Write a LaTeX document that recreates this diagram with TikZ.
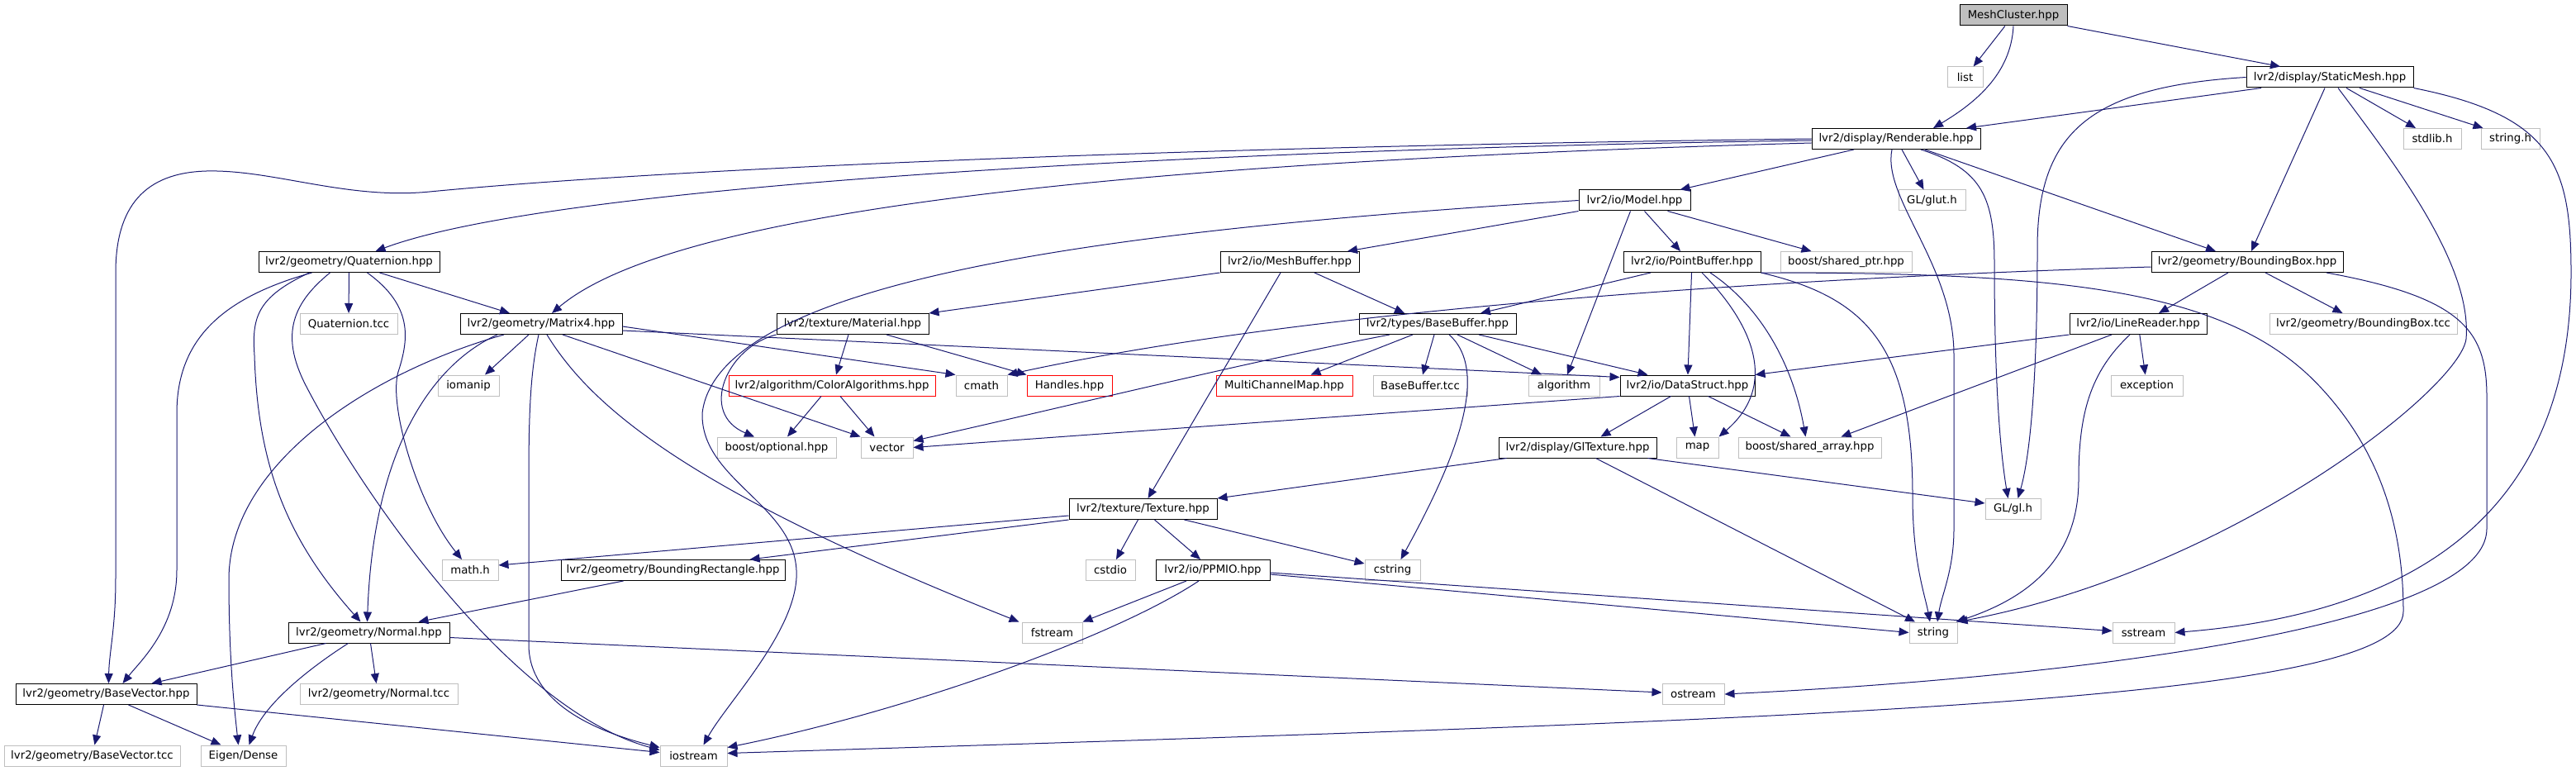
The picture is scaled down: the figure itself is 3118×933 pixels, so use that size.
\documentclass[tikz,border=0pt]{standalone}
\usepackage{fontspec}
\setmainfont{DejaVu Sans}
\usetikzlibrary{arrows.meta}
\definecolor{edgeblue}{HTML}{191970}
\definecolor{boxgray}{HTML}{BFBFBF}

\begin{document}
\begin{tikzpicture}[x=1pt,y=-1pt,
  box/.style={draw,line width=1pt,minimum height=25pt,inner sep=0pt,font=\fontsize{13.3}{15}\selectfont},
  hdr/.style={box,draw=black},
  sys/.style={box,draw=boxgray},
  miss/.style={box,draw=red},
  cur/.style={box,draw=black,fill=boxgray},
  edge/.style={draw=edgeblue,line width=1pt,-{Triangle[length=12pt,width=10pt]}}]
\useasboundingbox (0,0) rectangle (3118,933);

% Узлы по рядам
\node[cur,minimum width=130pt] (mc) at (2437,18.5) {MeshCluster.hpp};
\node[sys,minimum width=43pt] (lst) at (2378.5,93.5) {list};
\node[hdr,minimum width=202pt] (sm) at (2820,93.5) {lvr2/display/StaticMesh.hpp};
\node[hdr,minimum width=204pt] (rend) at (2295,168) {lvr2/display/Renderable.hpp};
\node[sys,minimum width=70pt] (stdl) at (2944,168) {stdlib.h};
\node[sys,minimum width=71pt] (strh) at (3038.5,168) {string.h};
\node[hdr,minimum width=135pt] (model) at (1978.5,242.5) {lvr2/io/Model.hpp};
\node[sys,minimum width=81pt] (glut) at (2338.5,242.5) {GL/glut.h};
\node[hdr,minimum width=219pt] (quat) at (422.5,317) {lvr2/geometry/Quaternion.hpp};
\node[hdr,minimum width=168pt] (mbuf) at (1561,317) {lvr2/io/MeshBuffer.hpp};
\node[hdr,minimum width=166pt] (pbuf) at (2048,317) {lvr2/io/PointBuffer.hpp};
\node[sys,minimum width=159pt] (sptr) at (2234.5,317) {boost/shared\_ptr.hpp};
\node[hdr,minimum width=232pt] (bbox) at (2720,317) {lvr2/geometry/BoundingBox.hpp};
\node[sys,minimum width=118pt] (qtcc) at (422,392) {Quaternion.tcc};
\node[hdr,minimum width=196pt] (mat4) at (655,392) {lvr2/geometry/Matrix4.hpp};
\node[hdr,minimum width=184pt] (mat) at (1032,392) {lvr2/texture/Material.hpp};
\node[hdr,minimum width=190pt] (bbuf) at (1740,392) {lvr2/types/BaseBuffer.hpp};
\node[hdr,minimum width=166pt] (lrd) at (2588,392) {lvr2/io/LineReader.hpp};
\node[sys,minimum width=227pt] (bbtcc) at (2860.5,392) {lvr2/geometry/BoundingBox.tcc};
\node[sys,minimum width=74pt] (iom) at (567,466.5) {iomanip};
\node[miss,minimum width=250pt] (calg) at (1007,466.5) {lvr2/algorithm/ColorAlgorithms.hpp};
\node[sys,minimum width=62pt] (cmath) at (1188,466.5) {cmath};
\node[miss,minimum width=103pt] (hnd) at (1294.5,466.5) {Handles.hpp};
\node[miss,minimum width=165pt] (mcm) at (1554.5,466.5) {MultiChannelMap.hpp};
\node[sys,minimum width=114pt] (bbtc) at (1719,466.5) {BaseBuffer.tcc};
\node[sys,minimum width=86pt] (algo) at (1893,466.5) {algorithm};
\node[hdr,minimum width=163pt] (ds) at (2042.5,466.5) {lvr2/io/DataStruct.hpp};
\node[sys,minimum width=87pt] (exc) at (2598.5,466.5) {exception};
\node[sys,minimum width=144pt] (bopt) at (940,541.5) {boost/optional.hpp};
\node[sys,minimum width=63pt] (vec) at (1073.5,541.5) {vector};
\node[hdr,minimum width=191pt] (gltex) at (1909.5,541.5) {lvr2/display/GlTexture.hpp};
\node[sys,minimum width=51pt] (map) at (2054.5,541.5) {map};
\node[sys,minimum width=173pt] (sarr) at (2190.5,541.5) {boost/shared\_array.hpp};
\node[hdr,minimum width=179pt] (tex) at (1383.5,616) {lvr2/texture/Texture.hpp};
\node[sys,minimum width=67pt] (gl) at (2436.5,616) {GL/gl.h};
\node[sys,minimum width=68pt] (math) at (569,690) {math.h};
\node[hdr,minimum width=271pt] (brect) at (814.5,690) {lvr2/geometry/BoundingRectangle.hpp};
\node[sys,minimum width=60pt] (cstdio) at (1344,690) {cstdio};
\node[hdr,minimum width=138pt] (ppm) at (1468,690) {lvr2/io/PPMIO.hpp};
\node[sys,minimum width=67pt] (cstr) at (1685.5,690) {cstring};
\node[hdr,minimum width=195pt] (nrm) at (446.5,765.5) {lvr2/geometry/Normal.hpp};
\node[sys,minimum width=73pt] (fstr) at (1273.5,765.5) {fstream};
\node[sys,minimum width=58pt] (str) at (2340,765.5) {string};
\node[sys,minimum width=75pt] (sstr) at (2594.5,765.5) {sstream};
\node[hdr,minimum width=219pt] (bvec) at (128.5,840) {lvr2/geometry/BaseVector.hpp};
\node[sys,minimum width=191pt] (ntcc) at (458.5,840) {lvr2/geometry/Normal.tcc};
\node[sys,minimum width=75pt] (ostr) at (2049.5,840) {ostream};
\node[sys,minimum width=213pt] (bvtcc) at (111.5,914.5) {lvr2/geometry/BaseVector.tcc};
\node[sys,minimum width=103pt] (eig) at (294.5,914.5) {Eigen/Dense};
\node[sys,minimum width=81pt] (iostr) at (839.5,914.5) {iostream};

% MeshCluster
\draw[edge] (mc) -- (lst);
\draw[edge] (mc.south) .. controls (2434,90) and (2390,125) .. ([xshift=45pt]rend.north);
\draw[edge] (mc.south east) -- ([xshift=-60pt]sm.north);
% StaticMesh
\draw[edge] ([xshift=-83pt]sm.south) -- ([xshift=85pt]rend.north);
\draw[edge] ([xshift=20pt]sm.south) -- ([xshift=-20pt]stdl.north);
\draw[edge] ([xshift=36pt]sm.south) -- ([xshift=-33pt]strh.north);
\draw[edge] ([xshift=-6pt]sm.south) -- ([xshift=5pt]bbox.north);
\draw[edge] (sm.west) .. controls (2530,105) and (2466,160) .. (2466,300) .. controls (2466,480) and (2455,560) .. ([xshift=6pt]gl.north);
\draw[edge] ([xshift=10pt]sm.south) .. controls (2900,200) and (2992,320) .. (2985,410) .. controls (2978,470) and (2700,690) .. (str.north east);
\draw[edge] (sm.south east) .. controls (3090,140) and (3112,200) .. (3112,330) .. controls (3112,600) and (2950,740) .. (sstr.east);
% Renderable
\draw[edge] ([xshift=-51pt]rend.south) -- ([xshift=55pt]model.north);
\draw[edge] ([xshift=7pt]rend.south) -- ([xshift=-10pt]glut.north);
\draw[edge] ([xshift=35pt]rend.south) -- ([xshift=-38pt]bbox.north);
\draw[edge] ([xshift=30pt]rend.south) .. controls (2400,205) and (2414,240) .. (2414,320) .. controls (2414,450) and (2420,540) .. ([xshift=-6pt]gl.north);
\draw[edge] ([xshift=-5pt]rend.south) .. controls (2278,240) and (2365,320) .. (2365,430) -- (2365,640) .. controls (2365,690) and (2350,720) .. ([xshift=5pt]str.north);
\draw[edge] (rend.west) .. controls (1400,178) and (800,205) .. (520,232) .. controls (420,242) and (330,205) .. (250,207) .. controls (175,209) and (140,250) .. (140,330) -- (140,700) .. controls (140,760) and (132,790) .. ([xshift=3pt]bvec.north);
\draw[edge] ([yshift=-2pt]rend.west) .. controls (1500,180) and (680,220) .. ([xshift=32pt]quat.north);
\draw[edge] ([yshift=-5pt]rend.west) .. controls (1400,195) and (820,250) .. ([xshift=13pt]mat4.north);
% Model
\draw[edge] (model.west) .. controls (1400,275) and (870,330) .. (850,500) .. controls (848,580) and (960,610) .. (964,690) .. controls (968,760) and (880,850) .. ([xshift=12pt]iostr.north);
\draw[edge] (model.south west) -- ([xshift=70pt]mbuf.north);
\draw[edge] ([xshift=-5pt]model.south) -- ([xshift=4pt]algo.north);
\draw[edge] ([xshift=12pt]model.south) -- ([xshift=-14pt]pbuf.north);
\draw[edge] ([xshift=40pt]model.south) -- ([xshift=-42pt]sptr.north);
% Quaternion
\draw[edge] (quat) -- (qtcc);
\draw[edge] ([xshift=37pt]quat.south) -- ([xshift=-38pt]mat4.north);
\draw[edge] ([xshift=-45pt]quat.south) .. controls (270,360) and (214,410) .. (214,500) -- (214,690) .. controls (214,760) and (170,800) .. ([xshift=20pt]bvec.north);
\draw[edge] ([xshift=-48pt]quat.south) .. controls (310,360) and (305,385) .. (308,430) .. controls (312,560) and (345,650) .. ([xshift=-10pt]nrm.north);
\draw[edge] ([xshift=-23pt]quat.south) .. controls (350,370) and (340,410) .. (372,470) .. controls (440,600) and (620,860) .. ([yshift=7pt]iostr.west);
\draw[edge] ([xshift=22pt]quat.south) .. controls (500,370) and (495,410) .. (482,450) .. controls (470,490) and (505,610) .. ([xshift=-10pt]math.north);
% Matrix4
\draw[edge] ([xshift=-15pt]mat4.south) -- ([xshift=20pt]iom.north);
\draw[edge] ([xshift=-45pt]mat4.south) .. controls (450,450) and (278,560) .. (277,700) .. controls (277,800) and (284,860) .. ([xshift=-6pt]eig.north);
\draw[edge] ([xshift=-53pt]mat4.south) .. controls (525,440) and (452,540) .. ([xshift=-2pt]nrm.north);
\draw[edge] ([xshift=-3pt]mat4.south) .. controls (642,450) and (640,500) .. (640,580) -- (640,780) .. controls (640,850) and (720,885) .. ([yshift=10pt]iostr.west);
\draw[edge] ([xshift=7pt]mat4.south) .. controls (720,500) and (850,600) .. ([xshift=-40pt]fstr.north);
\draw[edge] ([xshift=26pt]mat4.south) -- (vec.north west);
\draw[edge] ([yshift=-3pt]mat4.east) -- (cmath.north west);
\draw[edge] ([yshift=-8pt]mat4.east) -- ([yshift=10pt]ds.west);
% Material
\draw[edge] (mat.south west) .. controls (880,420) and (845,500) .. ([xshift=-27pt]bopt.north);
\draw[edge] ([xshift=-5pt]mat.south) -- ([xshift=5pt]calg.north);
\draw[edge] ([xshift=41pt]mat.south) -- (hnd.north west);
% MeshBuffer
\draw[edge] (mbuf.south west) -- (mat.north east);
\draw[edge] ([xshift=-11pt]mbuf.south) -- ([xshift=6pt]tex.north);
\draw[edge] ([xshift=30pt]mbuf.south) -- ([xshift=-40pt]bbuf.north);
% PointBuffer
\draw[edge] ([xshift=-50pt]pbuf.south) -- ([xshift=52pt]bbuf.north);
\draw[edge] (pbuf) -- (ds);
\draw[edge] ([xshift=12pt]pbuf.south) .. controls (2110,380) and (2160,460) .. (map.north east);
\draw[edge] ([xshift=22pt]pbuf.south) .. controls (2130,370) and (2170,440) .. ([xshift=-5pt]sarr.north);
\draw[edge] (pbuf.south east) .. controls (2260,360) and (2315,420) .. (2315,600) .. controls (2315,680) and (2330,720) .. ([xshift=-4pt]str.north);
\draw[edge] (pbuf.south east) .. controls (2500,330) and (2700,350) .. (2810,470) .. controls (2870,535) and (2909,620) .. (2909,740) .. controls (2909,850) and (2200,870) .. ([yshift=3pt]iostr.east);
% BoundingBox
\draw[edge] ([xshift=96pt]bbox.south) .. controls (2980,360) and (3010,400) .. (3010,480) -- (3010,640) .. controls (3010,760) and (2500,820) .. (ostr.east);
\draw[edge] ([yshift=-6pt]bbox.west) .. controls (2200,335) and (1600,370) .. (cmath.north east);
\draw[edge] ([xshift=-23pt]bbox.south) -- ([xshift=25pt]lrd.north);
\draw[edge] ([xshift=22pt]bbox.south) -- ([xshift=-25pt]bbtcc.north);
% BaseBuffer
\draw[edge] ([xshift=-58pt]bbuf.south) .. controls (1500,440) and (1300,490) .. ([yshift=8pt]vec.east);
\draw[edge] ([xshift=-30pt]bbuf.south) -- ([xshift=32pt]mcm.north);
\draw[edge] ([xshift=-4pt]bbuf.south) -- ([xshift=3pt]bbtc.north);
\draw[edge] ([xshift=14pt]bbuf.south) .. controls (1805,450) and (1760,560) .. ([xshift=10pt]cstr.north);
\draw[edge] ([xshift=24pt]bbuf.south) -- ([xshift=-27pt]algo.north);
\draw[edge] ([xshift=50pt]bbuf.south) -- ([xshift=-48pt]ds.north);
% ColorAlgorithms
\draw[edge] ([xshift=-13pt]calg.south) -- ([xshift=13pt]bopt.north);
\draw[edge] ([xshift=10pt]calg.south) -- ([xshift=-15pt]vec.north);
% DataStruct
\draw[edge] (ds.south west) -- (vec.east);
\draw[edge] ([xshift=-20pt]ds.south) -- ([xshift=28pt]gltex.north);
\draw[edge] ([xshift=2pt]ds.south) -- ([xshift=-3pt]map.north);
\draw[edge] ([xshift=25pt]ds.south) -- ([xshift=-23pt]sarr.north);
% LineReader
\draw[edge] (lrd.south west) -- (ds.north east);
\draw[edge] ([xshift=-32pt]lrd.south) -- ([xshift=38pt]sarr.north);
\draw[edge] ([xshift=-10pt]lrd.south) .. controls (2530,450) and (2516,500) .. (2516,580) .. controls (2516,680) and (2450,725) .. ([xshift=-2pt]str.north east);
\draw[edge] (lrd) -- (exc);
% GlTexture
\draw[edge] ([xshift=10pt]gltex.south west) -- (tex.north east);
\draw[edge] ([xshift=22pt]gltex.south) -- ([xshift=-22pt]str.north);
\draw[edge] ([xshift=-11pt]gltex.south east) -- ([yshift=7pt]gl.west);
% Texture
\draw[edge] ([yshift=-8pt]tex.west) -- ([yshift=6pt]math.east);
\draw[edge] (tex.south west) -- ([xshift=93pt]brect.north);
\draw[edge] ([xshift=-6pt]tex.south) -- ([xshift=7pt]cstdio.north);
\draw[edge] ([xshift=14pt]tex.south) -- ([xshift=-15pt]ppm.north);
\draw[edge] ([xshift=50pt]tex.south) -- ([yshift=8pt]cstr.west);
% BoundingRectangle
\draw[edge] ([xshift=-60pt]brect.south) -- ([xshift=60pt]nrm.north);
% PPMIO
\draw[edge] ([xshift=-32pt]ppm.south) -- (fstr.north east);
\draw[edge] ([xshift=-17pt]ppm.south) .. controls (1350,770) and (1100,860) .. ([yshift=10pt]iostr.east);
\draw[edge] ([yshift=-5pt]ppm.east) -- (str.west);
\draw[edge] ([yshift=-3pt]ppm.east) -- ([yshift=2pt]sstr.west);
% Normal
\draw[edge] ([xshift=-52pt]nrm.south) -- ([xshift=55pt]bvec.north);
\draw[edge] ([xshift=-25pt]nrm.south) .. controls (380,805) and (320,850) .. ([xshift=7pt]eig.north);
\draw[edge] ([xshift=2pt]nrm.south) -- ([xshift=-3pt]ntcc.north);
\draw[edge] ([yshift=-6pt]nrm.east) -- ([yshift=2pt]ostr.west);
% BaseVector
\draw[edge] (bvec) -- (bvtcc);
\draw[edge] ([xshift=27pt]bvec.south) -- ([xshift=-27pt]eig.north);
\draw[edge] (bvec.south east) -- ([yshift=4pt]iostr.west);
\end{tikzpicture}
\end{document}
